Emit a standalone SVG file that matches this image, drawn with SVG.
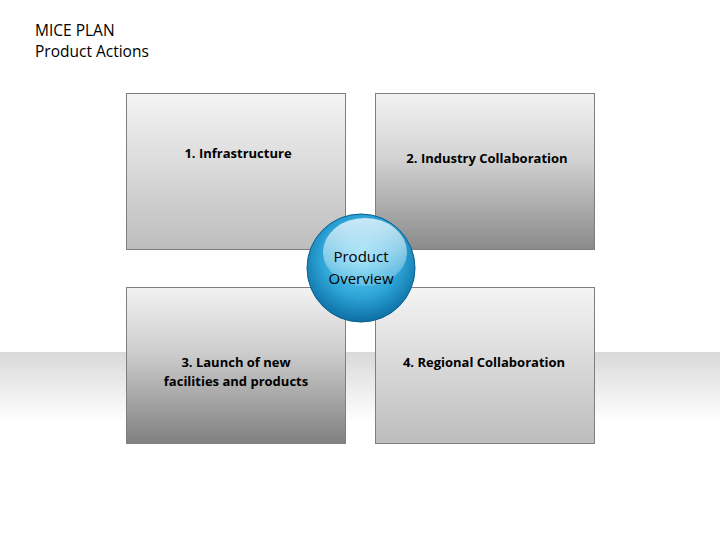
<svg xmlns="http://www.w3.org/2000/svg" width="720" height="540" viewBox="0 0 720 540">
<defs>
<linearGradient id="band" x1="0" y1="0" x2="0" y2="1"><stop offset="0" stop-color="#d9d9d9"/><stop offset="1" stop-color="#ffffff"/></linearGradient>
<linearGradient id="g1" x1="0" y1="0" x2="0" y2="1"><stop offset="0" stop-color="#f4f4f4"/><stop offset="1" stop-color="#bdbdbd"/></linearGradient>
<linearGradient id="g2" x1="0" y1="0" x2="0" y2="1"><stop offset="0" stop-color="#f2f2f2"/><stop offset="0.4" stop-color="#d4d4d4"/><stop offset="1" stop-color="#8a8a8a"/></linearGradient>
<linearGradient id="g3" x1="0" y1="0" x2="0" y2="1"><stop offset="0" stop-color="#f2f2f2"/><stop offset="0.4" stop-color="#cfcfcf"/><stop offset="1" stop-color="#808080"/></linearGradient>
<radialGradient id="ball" cx="0.5" cy="0.4" r="0.6"><stop offset="0" stop-color="#6fd3f5"/><stop offset="0.6" stop-color="#2fa6d8"/><stop offset="1" stop-color="#0c6fa5"/></radialGradient>
<linearGradient id="hl" x1="0" y1="0" x2="0" y2="1"><stop offset="0" stop-color="#ffffff" stop-opacity="0.75"/><stop offset="1" stop-color="#ffffff" stop-opacity="0.15"/></linearGradient>
</defs>
<style>
.box{stroke:#7f7f7f;stroke-width:1}
.lbl{font-family:"Open Sans","Liberation Sans",sans-serif;font-weight:bold;font-size:13px;fill:#000;text-anchor:middle}
.t{font-family:"Open Sans","Liberation Sans",sans-serif;font-size:15.5px;fill:#000}
.c{font-family:"Open Sans","Liberation Sans",sans-serif;font-size:15px;fill:#000;text-anchor:middle}
</style>
<rect x="0" y="352" width="720" height="70" fill="url(#band)"/>
<g id="title">
<text class="t" x="35" y="36">MICE PLAN</text>
<text class="t" x="35" y="57">Product Actions</text>
</g>
<g id="connectors"></g>
<g id="box1"><rect class="box" x="126.5" y="93.5" width="219" height="156" fill="url(#g1)"/><text class="lbl" x="238" y="158">1. Infrastructure</text></g>
<g id="box2"><rect class="box" x="375.5" y="93.5" width="219" height="156" fill="url(#g2)"/><text class="lbl" x="487" y="163">2. Industry Collaboration</text></g>
<g id="box3"><rect class="box" x="126.5" y="287.5" width="219" height="156" fill="url(#g3)"/><text class="lbl" x="236" y="367">3. Launch of new</text><text class="lbl" x="236" y="386">facilities and products</text></g>
<g id="box4"><rect class="box" x="375.5" y="287.5" width="219" height="156" fill="url(#g1)"/><text class="lbl" x="484" y="367">4. Regional Collaboration</text></g>
<g id="center">
<circle cx="361" cy="268" r="54" fill="url(#ball)" stroke="#0b5f8f" stroke-width="1"/>
<ellipse cx="365" cy="252" rx="42" ry="34" fill="url(#hl)"/>
<text class="c" x="361" y="262">Product</text>
<text class="c" x="361" y="284">Overview</text>
</g>
</svg>
